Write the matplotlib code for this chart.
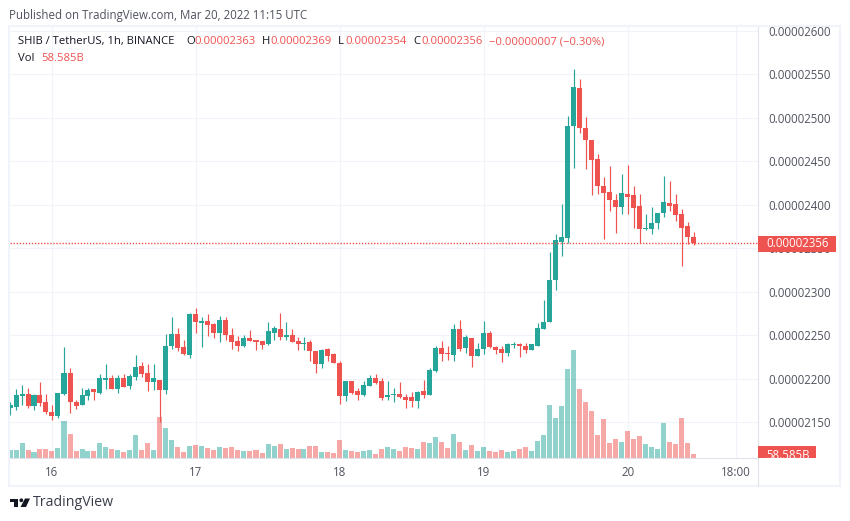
import numpy as np
from matplotlib import pyplot as plt
from matplotlib.patches import Rectangle, Polygon, Circle

# prices in units of 0.00000001, one candle per hour
opens = [2166,2167,2180,2182,2168,2181,2173,2162,2157,2182,2206,2173,2170,2180,2188,2183,2199,2201,2188,2201,2191,2202,2214,2206,2196,2199,
	2187,2237,2251,2236,2227,2274,2264,2266,2263,2252,2268,2250,2243,2237,2247,2244,2243,2240,2252,2257,2248,2250,2243,2240,2242,2232,2217,2234,2228,2218,2180,
	2197,2186,2181,2191,2201,2197,2179,2181,2182,2179,2179,2174,2186,2181,2209,2235,2230,2227,2257,2235,2247,2226,2234,2252,2236,2234,2230,2239,2240,2237,2233,2237,2257,2265,2314,
	2357,2362,2490,2534,2488,2475,2453,2422,2415,2406,2397,2412,2411,2398,2372,2372,2379,2390,2402,2401,2389,2375,2363]
highs = [2173,2188,2193,2189,2182,2196,2182,2170,2183,2236,2212,2175,2189,2189,2188,2205,2217,2204,2204,2205,2205,2227,2219,2217,2217,2199,
	2251,2271,2258,2244,2275,2281,2271,2274,2264,2272,2271,2258,2249,2250,2256,2245,2243,2265,2260,2275,2265,2257,2248,2248,2245,2232,2234,2235,2229,2220,2197,
	2197,2189,2197,2204,2205,2201,2197,2189,2196,2182,2185,2186,2199,2212,2237,2243,2237,2263,2267,2250,2247,2241,2266,2255,2237,2237,2241,2242,2241,2241,2240,2264,2290,2346,2366,
	2401,2502,2556,2545,2501,2475,2458,2432,2445,2412,2435,2446,2422,2412,2389,2397,2390,2433,2427,2412,2395,2380,2369]
lows = [2158,2164,2170,2166,2164,2168,2159,2152,2155,2181,2160,2165,2170,2176,2175,2182,2188,2188,2184,2190,2188,2199,2202,2186,2187,2150,
	2182,2234,2232,2227,2224,2253,2236,2249,2247,2242,2245,2234,2232,2236,2243,2233,2234,2239,2244,2245,2245,2242,2233,2233,2220,2206,2212,2220,2218,2171,2174,
	2182,2175,2180,2191,2194,2175,2175,2173,2178,2166,2167,2166,2178,2181,2208,2220,2221,2220,2232,2229,2213,2226,2228,2235,2228,2219,2226,2235,2225,2230,2233,2237,2257,2265,2302,
	2341,2356,2442,2482,2441,2411,2412,2361,2393,2368,2389,2389,2373,2356,2371,2366,2372,2386,2393,2381,2329,2355,2354]
closes = [2170,2181,2182,2168,2181,2172,2162,2157,2183,2207,2173,2168,2181,2187,2185,2201,2200,2188,2201,2190,2203,2213,2205,2196,2201,2187,
	2238,2251,2235,2228,2274,2265,2266,2262,2252,2267,2250,2242,2237,2247,2243,2242,2239,2255,2258,2248,2250,2242,2240,2241,2232,2217,2233,2226,2218,2180,2197,
	2183,2181,2193,2201,2195,2178,2181,2182,2179,2176,2174,2185,2181,2210,2235,2228,2228,2257,2234,2248,2226,2234,2252,2236,2233,2230,2240,2240,2237,2233,2240,2258,2265,2314,2359,
	2363,2491,2535,2488,2474,2451,2422,2414,2406,2397,2413,2409,2396,2372,2373,2379,2390,2403,2399,2388,2373,2363,2356]
# volume in billions
volumes = [117,117,219,117,88,131,131,102,146,541,351,102,131,102,102,219,161,131,117,88,117,336,117,219,117,599,438,263,161,88,175,190,175,146,117,161,146,161,117,102,102,117,73,205,175,205,131,
	146,131,131,175,175,88,88,73,263,117,102,88,102,117,58,131,161,131,102,161,146,131,234,219,307,234,146,351,234,117,190,102,161,102,88,117,88,102,131,161,102,248,336,774,
	584,760,1300,1578,1008,818,687,336,570,219,278,234,394,278,321,205,161,131,511,234,205,584,219,58.585]

price_ticks = [2150,2200,2250,2300,2350,2400,2450,2500,2550,2600]
time_ticks = [7,31,55,79,103,121]
time_labels = ["16","17","18","19","20","18:00"]
last_price = 2356

GREEN = "#26a69a"
RED = "#ef5350"
GRID = "#f0f3fa"
AXIS = "#e0e3eb"
TEXT = "#50535e"
W, H = 850, 521
FONT = "Open Sans"
FS = 8.3
FS_LEGEND = 8.15

plt.rcParams["font.family"] = FONT

fig = plt.figure(figsize=(W/100, H/100), dpi=100)

# chart pane in pixels
left, top, right, bottom = 10, 27, 758, 458
ax = fig.add_axes([left/W, 1-bottom/H, (right-left)/W, (bottom-top)/H])

px_per_price = 0.8696
ymin = 2550 - (bottom-74.3)/px_per_price
ymax = 2550 + (74.3-top)/px_per_price
ax.set_xlim(0, (right-left)/6)
ax.set_ylim(ymin, ymax)

X = np.arange(len(closes))
colors = [GREEN if c >= o else RED for o,c in zip(opens, closes)]
bar_w = 5/6

# volume shares the pane, 14.61B per pixel
vol_scale = 1/(14.61*px_per_price)
ax.bar(X, np.array(volumes)*vol_scale, bottom=ymin, width=bar_w, color=colors, alpha=0.5, linewidth=0, zorder=2)

ax.vlines(X, lows, highs, colors=colors, linewidth=0.85, zorder=3)
body_low = np.minimum(opens, closes)
body_h = np.maximum(np.abs(np.array(closes)-np.array(opens)), 1.2)
ax.bar(X, body_h, bottom=body_low, width=bar_w, color=colors, linewidth=0, zorder=4)

ax.axhline(last_price, color=RED, linewidth=1, linestyle=(0, (1, 1.2)), zorder=5)

ax.set_axisbelow(True)
ax.grid(color=GRID, linewidth=0.75)
ax.set_xticks(time_ticks, time_labels)
ax.set_yticks(price_ticks, [f"{p/1e8:.8f}" for p in price_ticks])
ax.yaxis.tick_right()
ax.tick_params(length=0, labelsize=FS, labelcolor=TEXT)
ax.tick_params(axis="x", pad=6)
ax.tick_params(axis="y", pad=7.5)
for lab in ax.get_yticklabels():
	lab.set_horizontalalignment("left")
for s in ["top", "left"]:
	ax.spines[s].set_visible(False)
for s in ["right", "bottom"]:
	ax.spines[s].set_color(AXIS)
	ax.spines[s].set_linewidth(0.8)

# overlay in pixel coordinates for frame, price tags, header and logo
ov = fig.add_axes([0, 0, 1, 1], zorder=10)
ov.set_xlim(0, W)
ov.set_ylim(H, 0)
ov.axis("off")

ov.add_patch(Rectangle((759, 18), 85, 8, facecolor="white", edgecolor="none"))
ov.add_patch(Rectangle((9.5, 26), 830.5, 460, fill=False, edgecolor=GRID, linewidth=1.5))
ov.plot([758, 758], [458, 486], color=AXIS, linewidth=0.8)

ov.add_patch(Rectangle((758, 235.5), 78, 16, facecolor=RED, edgecolor="none"))
ov.text(798, 243.5, f"{last_price/1e8:.8f}", color="white", fontsize=FS, ha="center", va="center")
vol_box = Rectangle((758, 446), 58.5, 12, facecolor=RED, edgecolor="none")
ov.add_patch(vol_box)
vol_txt = ov.text(788, 455.5, "58.585B", color="white", fontsize=FS, ha="center", va="center")
vol_txt.set_clip_path(vol_box)

ov.text(9, 15, "Published on TradingView.com, Mar 20, 2022 11:15 UTC", color=TEXT, fontsize=FS, va="center")

ov.text(18, 41.5, "SHIB / TetherUS, 1h, BINANCE", color="#131722", fontsize=FS_LEGEND, va="center")
for lab, lx, val, vx in [("O", 186, "0.00002363", 194), ("H", 262, "0.00002369", 270), ("L", 338, "0.00002354", 345), ("C", 413, "0.00002356", 421)]:
	ov.text(lx, 41.5, lab, color="#131722", fontsize=FS_LEGEND, va="center")
	ov.text(vx, 41.5, val, color=RED, fontsize=FS_LEGEND, va="center")
ov.text(489, 41.5, "\u22120.00000007 (\u22120.30%)", color=RED, fontsize=FS_LEGEND, va="center")
ov.text(18, 58.5, "Vol", color="#131722", fontsize=FS_LEGEND, va="center")
ov.text(41, 58.5, "58.585B", color=RED, fontsize=FS_LEGEND, va="center")

# logo
LOGO = "#131722"
ov.add_patch(Polygon([(10, 498.5), (18.5, 498.5), (18.5, 507), (14, 507), (14, 502), (10, 502)], facecolor=LOGO, edgecolor="none"))
ov.add_patch(Circle((21.3, 500.3), 1.9, facecolor=LOGO, edgecolor="none"))
ov.add_patch(Polygon([(25, 498.5), (30, 498.5), (26, 507), (20.5, 507)], facecolor=LOGO, edgecolor="none"))
ov.text(33, 503, "TradingView", color="#3a3e4a", fontsize=10.2, va="center")

fig.savefig("out.png", dpi=100)
